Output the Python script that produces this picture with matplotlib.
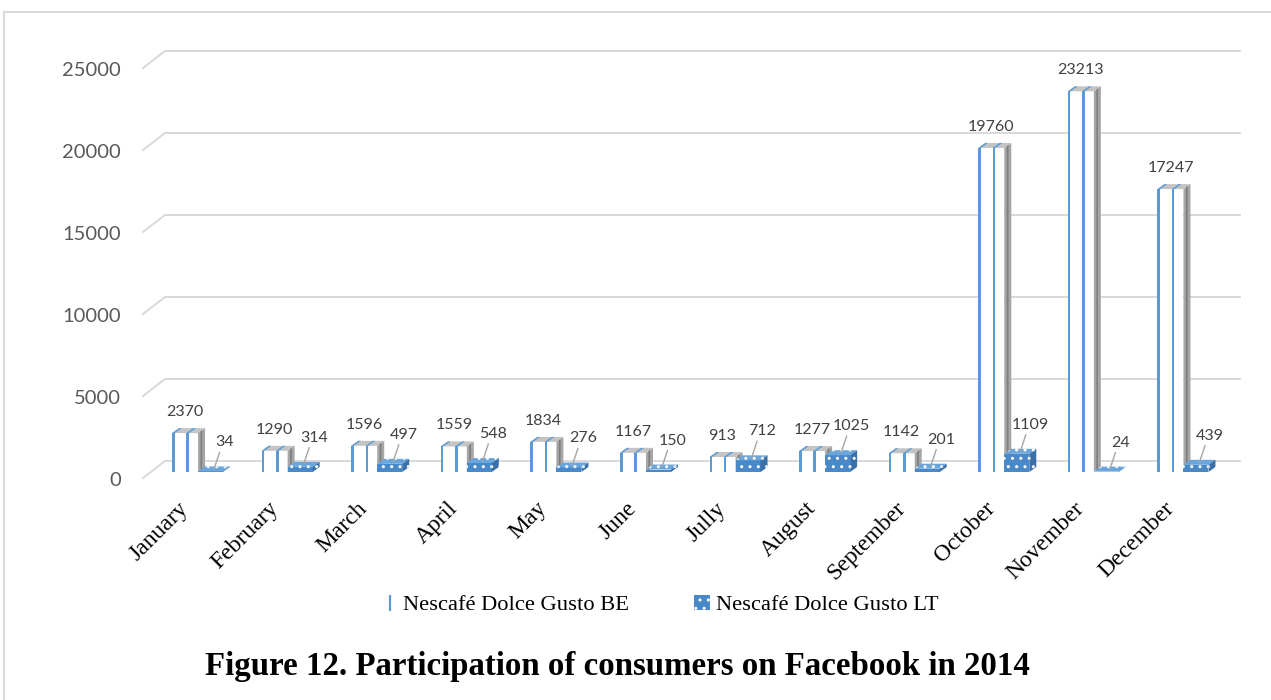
import matplotlib
matplotlib.use('Agg')
import matplotlib.pyplot as plt
from matplotlib.patches import Rectangle, Polygon, Patch
from matplotlib.lines import Line2D

months = ['January', 'February', 'March', 'April', 'May', 'June', 'Jully',
          'August', 'September', 'October', 'November', 'December']
be_values = [2370, 1290, 1596, 1559, 1834, 1167, 913, 1277, 1142, 19760, 23213, 17247]
lt_values = [34, 314, 497, 548, 276, 150, 712, 1025, 201, 1109, 24, 439]
series_names = ['Nescafé Dolce Gusto BE', 'Nescafé Dolce Gusto LT']
y_ticks = [0, 5000, 10000, 15000, 20000, 25000]
title = 'Figure 12. Participation of consumers on Facebook in 2014'

W, H = 1271, 700
BLUE = '#5b9bd5'
LT_FRONT = '#4a89c8'
LT_TOP = '#6aa6dc'
LT_SIDE = '#3a70a8'

fig = plt.figure(figsize=(W / 100, H / 100), dpi=100)
ax = fig.add_axes([143 / W, 1 - 478 / H, 1075 / W, 410 / H])
ax.set_xlim(0, len(months))
ax.set_ylim(0, 25000)
ax.axis('off')

# data units per pixel
ux = len(months) / ax.bbox.width
uy = 25000 / ax.bbox.height

# chart border (light grey frame)
fig.patches.append(Rectangle((4 / W, -0.1), 1.2, 1.1 - 12 / H, transform=fig.transFigure,
                             fill=False, edgecolor='#d9d9d9', lw=1.5))

# back wall gridlines with the 3d diagonal at the left
for v in y_ticks:
    ax.plot([0, 22 * ux, len(months) + 22 * ux], [v, v + 17 * uy, v + 17 * uy],
            color='#d9d9d9', lw=1.4, zorder=0, clip_on=False)
    ax.text(-22 * ux, v - 3 * uy, str(v), ha='right', va='center', fontsize=14.5,
            color='#595959', family='Lato')

sx, sy = 8 * ux, 6 * uy     # bars sit a bit behind the front plane
dx, dy = 7 * ux, 5 * uy     # depth of one bar


def box(x0, w, h, front, top, side, hatch=None, z=2):
    x0 += sx
    y0 = sy
    hatch_kw = dict(hatch=hatch, edgecolor='white', lw=0) if hatch else dict(edgecolor='none')
    ax.add_patch(Rectangle((x0, y0), w, h, facecolor=front, zorder=z, clip_on=False, **hatch_kw))
    ax.add_patch(Polygon([(x0, y0 + h), (x0 + w, y0 + h), (x0 + w + dx, y0 + h + dy),
                          (x0 + dx, y0 + h + dy)], closed=True, facecolor=top, zorder=z,
                         clip_on=False, **hatch_kw))
    ax.add_patch(Polygon([(x0 + w, y0), (x0 + w + dx, y0 + dy), (x0 + w + dx, y0 + h + dy),
                          (x0 + w, y0 + h)], closed=True, facecolor=side, zorder=z,
                         clip_on=False, **hatch_kw))
    return x0, y0


be_off, be_w = 0.235, 26 * ux
lt_off, lt_w = be_off + be_w, 25 * ux
stripe = 2.6 * ux

for i in range(len(months)):
    # BE: white column with blue vertical stripes
    h = be_values[i]
    x0, y0 = box(i + be_off, be_w, h, 'white', '#c4c4c4', '#a6a6a6', z=2)
    for s in (x0, x0 + be_w * 0.55):
        ax.add_patch(Rectangle((s, y0), stripe, h, facecolor=BLUE, edgecolor='none',
                               zorder=2.1, clip_on=False))
        ax.add_patch(Polygon([(s, y0 + h), (s + stripe, y0 + h), (s + stripe + dx, y0 + h + dy),
                              (s + dx, y0 + h + dy)], closed=True, facecolor=BLUE,
                             edgecolor='none', zorder=2.1, clip_on=False))
    ax.add_patch(Polygon([(x0 + be_w + dx * 0.35, y0 + dy * 0.35), (x0 + be_w + dx * 0.6, y0 + dy * 0.6),
                          (x0 + be_w + dx * 0.6, y0 + h + dy * 0.6), (x0 + be_w + dx * 0.35, y0 + h + dy * 0.35)],
                         closed=True, facecolor='#7f7f7f', edgecolor='none', zorder=2.1, clip_on=False))
    ax.text(x0 + be_w / 2, y0 + h + 21 * uy, str(h), ha='center', va='center',
            fontsize=11.5, color='#404040', family='Lato', zorder=5)

    # LT: dotted blue box
    h = lt_values[i]
    x0, y0 = box(i + lt_off, lt_w, h, LT_FRONT, LT_TOP, LT_SIDE, hatch='..', z=3)
    cx, cy = x0 + lt_w / 2 + dx / 2, y0 + h + dy / 2
    lx, ly = x0 + lt_w / 2 + 14 * ux, y0 + h + 29 * uy
    ax.plot([cx, lx - 5 * ux], [cy, ly - 10 * uy], color='#a6a6a6', lw=1, zorder=4,
            clip_on=False)
    ax.text(lx, ly, str(h), ha='center', va='center', fontsize=11.5, color='#404040',
            family='Lato', zorder=5)

    ax.text(i + 0.5 + 5 * ux, -20 * uy, months[i], rotation=45, ha='right', va='top',
            fontsize=17, family='Liberation Serif', color='black')

handles = [Line2D([], [], marker='|', color=BLUE, linestyle='None', markersize=11, mew=1.6),
           Patch(facecolor=LT_FRONT, hatch='..', edgecolor='white', lw=0)]
fig.legend(handles, series_names, loc='center', bbox_to_anchor=(660 / W, 1 - 605 / H),
           ncol=2, frameon=False, handlelength=0.7, handleheight=0.7, handletextpad=0.25,
           columnspacing=2.9, prop={'family': 'Liberation Serif', 'size': 16.2})

fig.text(617 / W, 1 - 666 / H, title, ha='center', va='center', fontsize=23.7,
         fontweight='bold', family='Liberation Serif')

fig.savefig('out.png', dpi=100)
